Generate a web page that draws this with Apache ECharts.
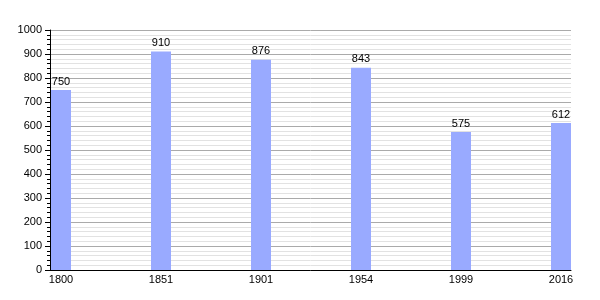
<!DOCTYPE html>
<html><head><meta charset="utf-8">
<script src="https://cdn.jsdelivr.net/npm/echarts@6/dist/echarts.min.js"></script>
<style>html,body{margin:0;padding:0;background:#fff}#c{width:600px;height:300px}</style>
</head><body><div id="c"></div>
<script>
var years = ['1800', '1851', '1901', '1954', '1999', '2016'];
var population = [750, 910, 876, 843, 575, 612];
var yTicks = [0, 100, 200, 300, 400, 500, 600, 700, 800, 900, 1000];

var idx = years.map(function (_, i) { return i; });
var chart = echarts.init(document.getElementById('c'), null, {renderer: 'canvas'});
var font = 'Liberation Sans, Arial, sans-serif';
chart.setOption({
  animation: false,
  backgroundColor: '#fff',
  grid: {left: 50, right: 29, top: 30, bottom: 30},
  xAxis: {
    type: 'value', min: -0.11, max: 5.1,
    axisLine: {show: true, onZero: false, lineStyle: {color: '#000', width: 1}},
    axisTick: {show: false},
    splitLine: {show: false},
    axisLabel: {
      customValues: idx, margin: 4, color: '#000', fontSize: 11, fontFamily: font,
      formatter: function (v) { return years[Math.round(v)]; }
    }
  },
  yAxis: {
    type: 'value', min: yTicks[0], max: yTicks[yTicks.length - 1], interval: 100,
    axisLine: {show: true, onZero: false, lineStyle: {color: '#000', width: 1}},
    axisTick: {show: true, length: 5, lineStyle: {color: '#000'}},
    minorTick: {show: true, splitNumber: 5, length: 3, lineStyle: {color: '#000'}},
    splitLine: {show: true, lineStyle: {color: '#aaaaaa', width: 1}},
    minorSplitLine: {show: true, lineStyle: {color: '#e2e2e2', width: 1}},
    axisLabel: {color: '#000', fontSize: 11, fontFamily: font, margin: 8,
      formatter: function (v) { return String(v); }}
  },
  series: [{
    type: 'bar',
    barWidth: 20,
    itemStyle: {color: '#99aaff'},
    label: {show: true, position: 'top', distance: 3, color: '#000', fontSize: 11, fontFamily: font},
    data: population.map(function (v, i) { return [idx[i], v]; })
  }]
});
</script></body></html>
